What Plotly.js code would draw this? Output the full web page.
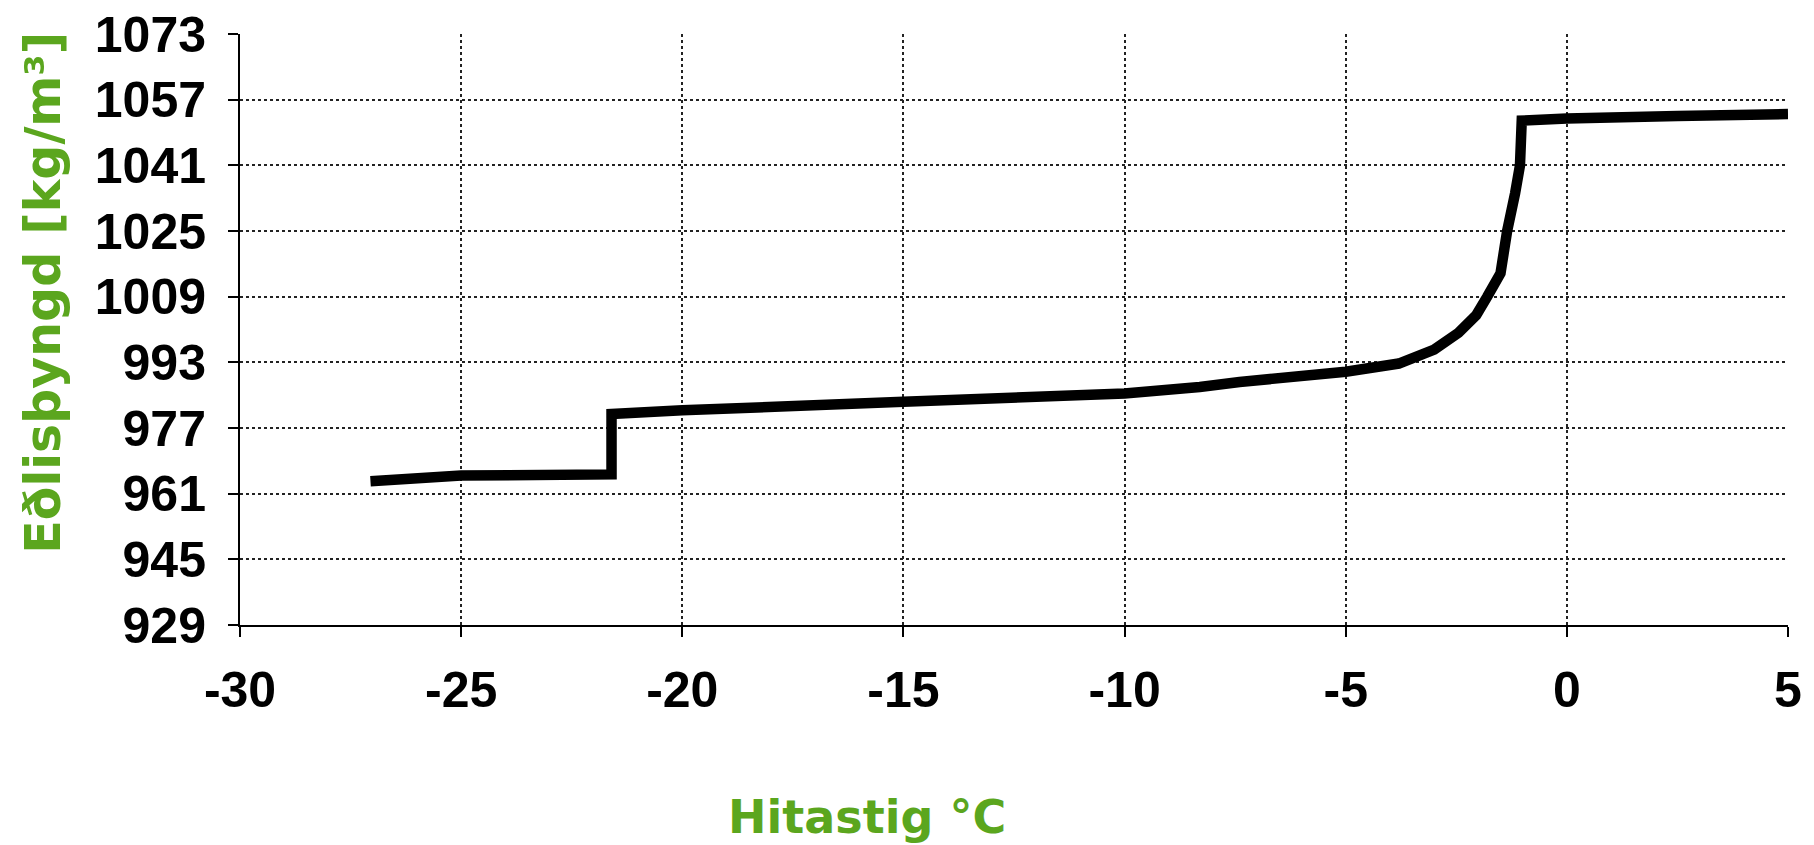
<!DOCTYPE html>
<html>
<head>
<meta charset="utf-8">
<script src="https://cdn.plot.ly/plotly-3.0.1.min.js"></script>
<style>
  html, body { margin: 0; padding: 0; background: #ffffff; }
  #chart { width: 1814px; height: 845px; }
</style>
</head>
<body>
<div id="chart"></div>
<script>
// Temperature (°C)
const temperature = [-27.05, -25, -21.6, -21.6, -20, -15, -10, -8.3, -7.4, -5, -3.8, -3.0, -2.45, -2.05, -1.8, -1.5, -1.35, -1.17, -1.06, -1.02, 0, 2.5, 5];
// Density (kg/m³)
const density = [964.0, 965.4, 965.7, 980.4, 981.3, 983.4, 985.4, 987.0, 988.2, 990.7, 992.7, 996.1, 1000.2, 1004.5, 1009.0, 1014.7, 1025.0, 1034.2, 1041.0, 1051.9, 1052.4, 1053.0, 1053.5];

const yTicks = [929, 945, 961, 977, 993, 1009, 1025, 1041, 1057, 1073];
const xTicks = [-30, -25, -20, -15, -10, -5, 0, 5];
const xTitle = 'Hitastig °C';
const yTitle = 'Eðlisþyngd [kg/m³]';

const green = '#5ba61e';
const tickFont = { family: '"Liberation Sans", Arial, sans-serif', size: 50, color: '#000000', weight: 'bold' };
const xTitleFont = { family: '"DejaVu Sans", Verdana, sans-serif', size: 46, color: green, weight: 'bold' };
const yTitleFont = { family: '"DejaVu Sans", Verdana, sans-serif', size: 49, color: green, weight: 'bold' };

const trace = {
  x: temperature,
  y: density,
  type: 'scatter',
  mode: 'lines',
  line: { color: '#000000', width: 10.5, shape: 'linear', simplify: false },
  hoverinfo: 'x+y',
  showlegend: false
};

const gridCommon = {
  showgrid: true,
  gridcolor: '#222222',
  gridwidth: 1.5,
  griddash: '3px,3px',
  zeroline: false,
  showline: true,
  linecolor: '#000000',
  linewidth: 2,
  ticks: 'outside',
  ticklen: 10,
  tickwidth: 2,
  tickcolor: '#000000',
  tickfont: tickFont
};

const layout = {
  width: 1814,
  height: 845,
  paper_bgcolor: '#ffffff',
  plot_bgcolor: '#ffffff',
  margin: { l: 240, r: 26, t: 34, b: 220, pad: 0 },
  xaxis: Object.assign({}, gridCommon, {
    range: [-30, 5],
    tickmode: 'array',
    tickvals: xTicks,
    ticktext: xTicks.map(String),
    ticklabelstandoff: 10
  }),
  yaxis: Object.assign({}, gridCommon, {
    range: [929, 1073],
    tickmode: 'array',
    tickvals: yTicks,
    ticktext: yTicks.map(String),
    ticklabelstandoff: 12
  }),
  annotations: [
    {
      text: xTitle,
      xref: 'paper', yref: 'paper',
      x: 0.405, y: -0.325,
      xanchor: 'center', yanchor: 'middle',
      showarrow: false,
      font: xTitleFont
    },
    {
      text: yTitle,
      xref: 'paper', yref: 'paper',
      x: -0.127, y: 0.563,
      xanchor: 'center', yanchor: 'middle',
      textangle: -90,
      showarrow: false,
      font: yTitleFont
    }
  ]
};

Plotly.newPlot('chart', [trace], layout, { displayModeBar: false, staticPlot: false });
</script>
</body>
</html>
